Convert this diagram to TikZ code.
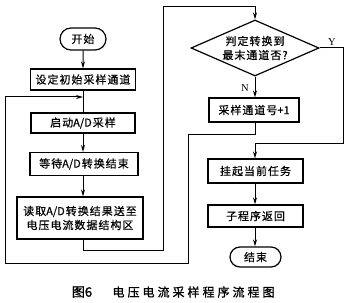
\documentclass[tikz,border=0pt]{standalone}
\usepackage{fontspec}
\setmainfont{Noto Sans CJK SC}
\newfontfamily\boxfont[FakeBold=0.6,LetterSpace=9]{Noto Sans CJK SC}
\newfontfamily\boxlat[FakeBold=0.6]{Noto Sans CJK SC}
\newcommand{\AD}{{\boxlat A/D}\hspace{1pt}}
\newfontfamily\capfont[FakeBold=1.2,LetterSpace=25]{Noto Sans CJK SC}
\newfontfamily\capfontb[FakeBold=1.2]{Noto Sans CJK SC}
\newfontfamily\serifl{Liberation Serif}
\usetikzlibrary{shapes.geometric,shapes.misc,arrows.meta}
\begin{document}
\begin{tikzpicture}[x=1pt,y=-1pt,
  every node/.style={font=\boxfont\fontsize{11}{14}\selectfont},
  box/.style={draw,line width=1.2pt,inner sep=0pt,align=center},
  term/.style={draw,line width=1.2pt,rounded rectangle,inner sep=0pt},
  dec/.style={draw,line width=1.2pt,diamond,aspect=2.29,inner sep=0pt,align=center},
  ln/.style={line width=1pt},
  arr/.style={line width=1pt,-{Stealth[length=7pt,width=4pt]}},
  lbl/.style={font=\serifl\fontsize{10.5}{12}\selectfont}]
\useasboundingbox (0,0) rectangle (350,302);
% left column
\node[term,minimum width=46pt,minimum height=22pt] (start) at (83,39) {开始};
\node[box,minimum width=105pt,minimum height=21pt] (init) at (83,79.5) {设定初始采样通道};
\node[box,minimum width=104pt,minimum height=20pt] (startad) at (83,123) {启动\AD 采样};
\node[box,minimum width=108pt,minimum height=23pt] (wait) at (84,164) {等待\AD 转换结束};
\node[box,minimum width=126pt,minimum height=42pt] (read) at (80,218) {读取\AD 转换结果送至\\电压电流数据结构区};
% right column
\node[dec,minimum width=128pt,minimum height=56pt] (dec) at (255,48) {判定转换到\\最末通道否?};
\node[box,minimum width=90pt,minimum height=24pt] (inc) at (254,110) {采样通道号{\boxlat +1}};
\node[box,minimum width=95pt,minimum height=24pt] (hang) at (255.5,171) {挂起当前任务};
\node[box,minimum width=95pt,minimum height=22pt] (ret) at (255.5,216) {子程序返回};
\node[term,minimum width=51pt,minimum height=20pt] (end) at (255.5,257) {结束};
% coordinates
\coordinate (m1) at (83,97);
\coordinate (c1) at (83,250);
\coordinate (c2) at (163,250);
\coordinate (c3) at (163,7);
\coordinate (c4) at (255,7);
\coordinate (n1) at (255,134);
\coordinate (n2) at (188,134);
\coordinate (n3) at (188,263);
\coordinate (n4) at (5,263);
\coordinate (n5) at (5,97);
\coordinate (y1) at (343,48);
\coordinate (y2) at (343,143);
\coordinate (y3) at (255,143);
% connectors
\draw[arr] (start) -- (init);
\draw[ln] (init.south) -- (startad.north);
\draw[arr] (startad.south) -- (startad.south |- wait.north);
\draw[arr] (wait.south -| startad.south) -- (startad.south |- read.north);
\draw[arr] (read.south -| c1) -- (c1) -- (c2) -- (c3) -- (c4) -- (dec.north);
\draw[arr] (dec.south) -- (dec.south |- inc.north);
\draw[arr] (inc.south -| n1) -- (n1) -- (n2) -- (n3) -- (n4) -- (n5) -- (m1);
\draw[arr] (dec.east) -- (y1) -- (y2) -- (y3) -- (y3 |- hang.north);
\draw[arr] (hang.south -| y3) -- (y3 |- ret.north);
\draw[arr] (ret.south -| y3) -- (y3 |- end.north);
% labels
\node[lbl] (ylab) at (332,42) {Y};
\node[lbl] (nlab) at (245,88) {N};
\node[font=\capfontb\fontsize{13}{15}\selectfont] (cap) at (82,292) {图6};
\node[font=\capfont\fontsize{12}{14}\selectfont,anchor=west] (cap2) at (109,292) {电压电流采样程序流程图};
\end{tikzpicture}
\end{document}
